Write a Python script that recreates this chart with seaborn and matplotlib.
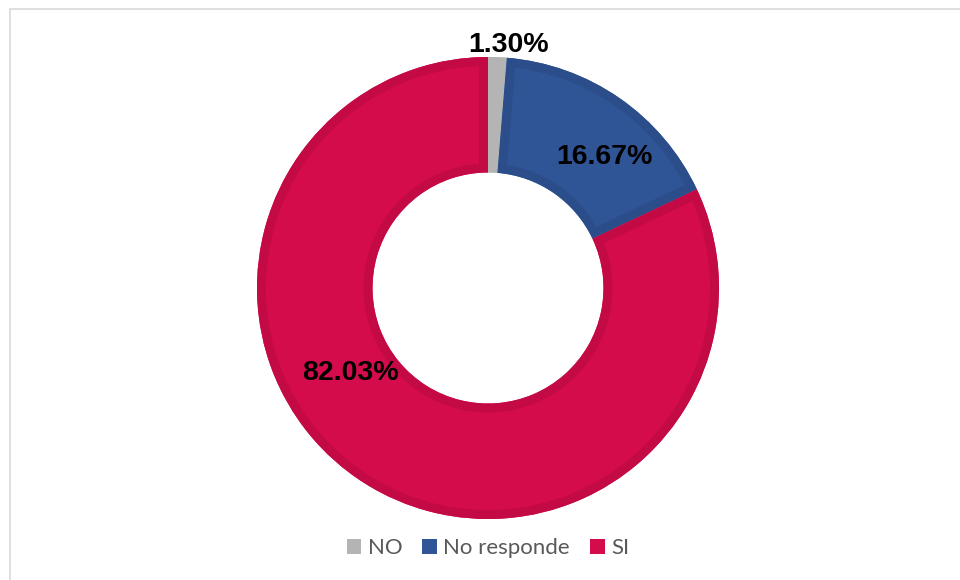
import matplotlib
matplotlib.use("Agg")
import matplotlib.pyplot as plt
import matplotlib.patches as mpatches
import seaborn as sns
import numpy as np

categories = ["NO", "No responde", "SI"]
values = [1.30, 16.67, 82.03]
fill_colors = ["#B4B4B4", "#2F5597", "#D50C4B"]
edge_colors = ["#B4B4B4", "#2B4E8B", "#C30A45"]
# label anchor positions (in pie radius units)
label_pos = [(0.087, 1.052), (0.502, 0.567), (-0.597, -0.368)]

sns.set_theme(style="white")
plt.rcParams["font.family"] = ["Liberation Sans", "DejaVu Sans"]

DPI = 100
fig = plt.figure(figsize=(9.6, 5.8), dpi=DPI)

# square axes centred on the donut
R_px = 231
span = 1.1
side = 2 * span * R_px
cx, cy = 488, 580 - 288
ax = fig.add_axes([(cx - side / 2) / 960, (cy - side / 2) / 580, side / 960, side / 580])

wedges, _ = ax.pie(values, colors=fill_colors, startangle=90, counterclock=False,
                   radius=1.0, wedgeprops=dict(width=0.5, linewidth=0))
ax.set_xlim(-span, span)
ax.set_ylim(-span, span)
ax.set_aspect("equal")
ax.axis("off")

# inner stroke: edge drawn on a copy of each wedge clipped to the wedge itself
stroke_px = 9
for w, ec in zip(wedges, edge_colors):
    outline = mpatches.Wedge(w.center, w.r, w.theta1, w.theta2, width=w.width,
                             facecolor="none", edgecolor=ec,
                             linewidth=2 * stroke_px * 72 / DPI)
    ax.add_patch(outline)
    outline.set_clip_path(w)

for v, (x, y) in zip(values, label_pos):
    ax.text(x, y, f"{v:.2f}%", ha="center", va="center", fontsize=20.5,
            fontweight="bold", color="black", clip_on=False)

handles = [mpatches.Patch(facecolor=c, edgecolor="none") for c in fill_colors]
leg = fig.legend(handles, categories, loc="center", bbox_to_anchor=(cx / 960, 1 - 548 / 580),
                 ncol=3, frameon=False, handlelength=0.65, handleheight=0.65,
                 handletextpad=0.3, columnspacing=0.9, prop={"family": "Lato", "size": 16})
for t in leg.get_texts():
    t.set_color("#595959")

# chart-area frame
fig.add_artist(mpatches.Rectangle((10 / 960, -0.1), 1.1, 1 - 9 / 580 + 0.1,
                                  transform=fig.transFigure, facecolor="none",
                                  edgecolor="#D9D9D9", linewidth=1.2))

fig.savefig("out.png", dpi=DPI)
